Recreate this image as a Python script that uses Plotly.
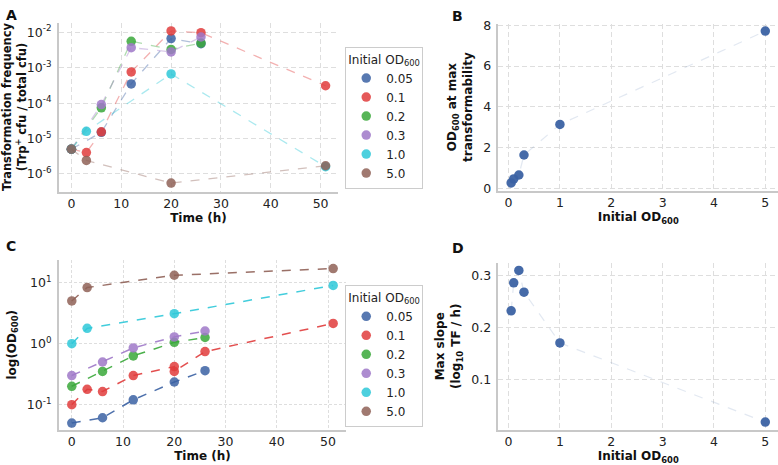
import plotly.graph_objects as go

# ---------------- data ----------------
groups = ["0.05", "0.1", "0.2", "0.3", "1.0", "5.0"]
colors = ["#3b62a3", "#e03c3c", "#3aa83a", "#9f78c8", "#2ec8d8", "#8f6157"]

# Panel A: transformation frequency vs time
tfA_t = [
    [0, 6, 12, 20, 26],
    [0, 3, 6, 12, 20, 26, 51],
    [0, 6, 12, 20, 26],
    [0, 6, 12, 20, 26],
    [0, 3, 20, 51],
    [0, 3, 20, 51],
]
tfA_v = [
    [5e-6, 1.5e-5, 3.5e-4, 6.7e-3, 4.8e-3],
    [5e-6, 4.0e-6, 1.55e-5, 7.6e-4, 1.1e-2, 9.8e-3, 3.1e-4],
    [5e-6, 7.4e-5, 5.6e-3, 3.3e-3, 5.0e-3],
    [5e-6, 9.1e-5, 3.7e-3, 2.8e-3, 7.4e-3],
    [5e-6, 1.6e-5, 6.7e-4, 1.6e-6],
    [5e-6, 2.4e-6, 5.5e-7, 1.7e-6],
]

# Panel C: OD600 vs time
odC_t = [
    [0, 6, 12, 20, 26],
    [0, 3, 6, 12, 20, 20, 26, 51],
    [0, 6, 12, 20, 26],
    [0, 6, 12, 20, 26],
    [0, 3, 20, 51],
    [0, 3, 20, 51],
]
odC_v = [
    [0.05, 0.061, 0.12, 0.235, 0.36],
    [0.1, 0.178, 0.164, 0.30, 0.42, 0.35, 0.74, 2.14],
    [0.2, 0.35, 0.63, 1.05, 1.26],
    [0.3, 0.50, 0.85, 1.29, 1.61],
    [1.0, 1.78, 3.1, 9.0],
    [5.0, 8.3, 13.2, 17.0],
]

# Panels B & D
initial_od = [0.05, 0.1, 0.2, 0.3, 1.0, 5.0]
od_at_max = [0.27, 0.47, 0.66, 1.64, 3.14, 7.71]
max_slope = [0.232, 0.286, 0.310, 0.268, 0.170, 0.017]

# ticks
time_ticks = [0, 10, 20, 30, 40, 50]
tfA_tickvals = [1e-6, 1e-5, 1e-4, 1e-3, 1e-2]
tfA_ticktext = ["10<sup>-6</sup>", "10<sup>-5</sup>", "10<sup>-4</sup>", "10<sup>-3</sup>", "10<sup>-2</sup>"]
odC_tickvals = [0.1, 1, 10]
odC_ticktext = ["10<sup>-1</sup>", "10<sup>0</sup>", "10<sup>1</sup>"]
od_ticks = [0, 1, 2, 3, 4, 5]
B_yticks = [0, 2, 4, 6, 8]
D_yticks = [0.1, 0.2, 0.3]


def rgba(hexc, a):
    h = hexc.lstrip("#")
    r, g, b = int(h[0:2], 16), int(h[2:4], 16), int(h[4:6], 16)
    return f"rgba({r},{g},{b},{a})"


W, H = 778, 465


def xd(a, b):
    return [a / W, b / W]


def yd(top, bottom):
    return [1 - bottom / H, 1 - top / H]


fig = go.Figure()


def add_series(xs, ys, name, color, line_alpha, line_w, xa, ya, leg):
    fig.add_trace(go.Scatter(
        x=xs, y=ys, mode="lines", name=name, showlegend=False,
        line=dict(color=rgba(color, line_alpha), width=line_w, dash="dash"),
        xaxis=xa, yaxis=ya, hoverinfo="skip"))
    fig.add_trace(go.Scatter(
        x=xs, y=ys, mode="markers", name=name, showlegend=True, legend=leg,
        marker=dict(color=rgba(color, 0.85), size=9.5),
        xaxis=xa, yaxis=ya))


# Panel A
for i, g in enumerate(groups):
    add_series(tfA_t[i], tfA_v[i], g, colors[i], 0.4, 1.3, "x", "y", "legend")

# Panel C
for i, g in enumerate(groups):
    add_series(odC_t[i], odC_v[i], g, colors[i], 0.9, 1.5, "x3", "y3", "legend2")

# Panel B
fig.add_trace(go.Scatter(
    x=initial_od, y=od_at_max, mode="lines+markers", showlegend=False,
    line=dict(color=rgba(colors[0], 0.15), width=1.2, dash="dash"),
    marker=dict(color=rgba(colors[0], 0.95), size=9.5),
    xaxis="x2", yaxis="y2"))

# Panel D
fig.add_trace(go.Scatter(
    x=initial_od, y=max_slope, mode="lines+markers", showlegend=False,
    line=dict(color=rgba(colors[0], 0.15), width=1.2, dash="dash"),
    marker=dict(color=rgba(colors[0], 0.95), size=9.5),
    xaxis="x4", yaxis="y4"))

tickfont = dict(family="DejaVu Sans", size=12.5, color="#222")
titlefont = dict(family="DejaVu Sans", size=12, color="#111")
titlefontA = dict(family="DejaVu Sans", size=11.5, color="#111")
gridc = "#dedede"
linec = "#c8c8c8"


def ax(**kw):
    base = dict(showline=True, linecolor=linec, linewidth=1.5, mirror=False,
                showgrid=True, gridcolor=gridc, griddash="5px,3px", gridwidth=1,
                zeroline=False, ticks="", tickfont=tickfont, ticklabelstandoff=0)
    base.update(kw)
    return base


fig.update_layout(
    width=W, height=H, margin=dict(l=0, r=0, t=0, b=0),
    paper_bgcolor="white", plot_bgcolor="white",
    font=dict(family="DejaVu Sans", color="#111"),
    xaxis=ax(domain=xd(55, 336), anchor="y", range=[-2.55, 53.55], tickvals=time_ticks,
             title=dict(text="<b>Time (h)</b>", font=titlefont, standoff=0)),
    yaxis=ax(domain=yd(17, 190), anchor="x", type="log", range=[-6.497, -1.724],
             tickvals=tfA_tickvals, ticktext=tfA_ticktext, ticklabelstandoff=3,
             title=dict(text="<b>Transformation frequency<br>(Trp<sup>+</sup> cfu / total cfu)</b>",
                        font=titlefontA, standoff=4)),
    xaxis2=ax(domain=xd(497, 778), anchor="y2", range=[-0.1975, 5.2475], tickvals=od_ticks,
              title=dict(text="<b>Initial OD<sub>600</sub></b>", font=titlefont, standoff=0)),
    yaxis2=ax(domain=yd(18, 189), anchor="x2", range=[-0.1, 8.08], tickvals=B_yticks,
              ticklabelstandoff=3,
              title=dict(text="<b>OD<sub>600</sub> at max<br>transformability</b>",
                         font=titlefont, standoff=8)),
    xaxis3=ax(domain=xd(55, 344), anchor="y3", range=[-2.55, 53.55], tickvals=time_ticks,
              griddash="3px,2px",
              title=dict(text="<b>Time (h)</b>", font=titlefont, standoff=0)),
    yaxis3=ax(domain=yd(260, 434), anchor="x3", type="log", range=[-1.411, 1.373],
              tickvals=odC_tickvals, ticktext=odC_ticktext, griddash="3px,2px",
              ticklabelstandoff=3,
              title=dict(text="<b>log(OD<sub>600</sub>)</b>", font=titlefont, standoff=8)),
    xaxis4=ax(domain=xd(497, 778), anchor="y4", range=[-0.1975, 5.2475], tickvals=od_ticks,
              title=dict(text="<b>Initial OD<sub>600</sub></b>", font=titlefont, standoff=0)),
    yaxis4=ax(domain=yd(263, 434), anchor="x4", range=[0.0023, 0.3247], tickvals=D_yticks,
              ticklabelstandoff=3,
              title=dict(text="<b>Max slope<br>(log<sub>10</sub> TF / h)</b>",
                         font=titlefont, standoff=8)),
    legend=dict(x=343 / W, y=1 - 42 / H, xanchor="left", yanchor="top",
                bordercolor="#cccccc", borderwidth=1, bgcolor="white",
                font=dict(family="DejaVu Sans", size=12, color="#222"),
                title=dict(text="Initial OD<sub>600</sub>",
                           font=dict(family="DejaVu Sans", size=12, color="#222"))),
    legend2=dict(x=343 / W, y=1 - 286 / H, xanchor="left", yanchor="top",
                 bordercolor="#cccccc", borderwidth=1, bgcolor="white",
                 font=dict(family="DejaVu Sans", size=12, color="#222"),
                 title=dict(text="Initial OD<sub>600</sub>",
                            font=dict(family="DejaVu Sans", size=12, color="#222"))),
)

letters = [("A", 0, -1), ("B", 448, 0), ("C", 0, 236), ("D", 448, 238)]
for txt, px, py in letters:
    fig.add_annotation(text=f"<b>{txt}</b>", xref="paper", yref="paper",
                       x=px / W, y=1 - py / H, xanchor="left", yanchor="top",
                       showarrow=False, font=dict(family="DejaVu Sans", size=14, color="#111"))

fig.write_html("out.html")
